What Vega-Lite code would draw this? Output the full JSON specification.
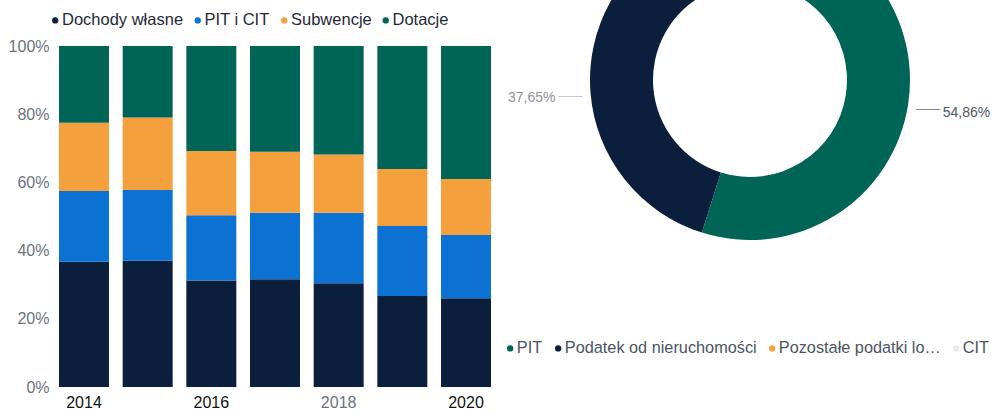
{
  "$schema": "https://vega.github.io/schema/vega-lite/v6.json",
  "padding": {"left": 8, "top": -80, "right": 0, "bottom": 0},
  "bounds": "flush",
  "spacing": 10,
  "resolve": {"scale": {"color": "independent"}, "legend": {"color": "independent"}},
  "config": {
    "view": {"stroke": null},
    "font": "Liberation Sans"
  },
  "hconcat": [
    {
      "width": 446,
      "height": 341,
      "data": {
        "values": [
          {"rok": 2014, "kategoria": "Dochody własne", "kolejnosc": 1, "udzial": 36.7},
          {"rok": 2014, "kategoria": "PIT i CIT", "kolejnosc": 2, "udzial": 20.8},
          {"rok": 2014, "kategoria": "Subwencje", "kolejnosc": 3, "udzial": 20.0},
          {"rok": 2014, "kategoria": "Dotacje", "kolejnosc": 4, "udzial": 22.5},
          {"rok": 2015, "kategoria": "Dochody własne", "kolejnosc": 1, "udzial": 37.0},
          {"rok": 2015, "kategoria": "PIT i CIT", "kolejnosc": 2, "udzial": 20.8},
          {"rok": 2015, "kategoria": "Subwencje", "kolejnosc": 3, "udzial": 21.2},
          {"rok": 2015, "kategoria": "Dotacje", "kolejnosc": 4, "udzial": 21.0},
          {"rok": 2016, "kategoria": "Dochody własne", "kolejnosc": 1, "udzial": 31.2},
          {"rok": 2016, "kategoria": "PIT i CIT", "kolejnosc": 2, "udzial": 19.2},
          {"rok": 2016, "kategoria": "Subwencje", "kolejnosc": 3, "udzial": 18.8},
          {"rok": 2016, "kategoria": "Dotacje", "kolejnosc": 4, "udzial": 30.8},
          {"rok": 2017, "kategoria": "Dochody własne", "kolejnosc": 1, "udzial": 31.6},
          {"rok": 2017, "kategoria": "PIT i CIT", "kolejnosc": 2, "udzial": 19.5},
          {"rok": 2017, "kategoria": "Subwencje", "kolejnosc": 3, "udzial": 17.9},
          {"rok": 2017, "kategoria": "Dotacje", "kolejnosc": 4, "udzial": 31.0},
          {"rok": 2018, "kategoria": "Dochody własne", "kolejnosc": 1, "udzial": 30.4},
          {"rok": 2018, "kategoria": "PIT i CIT", "kolejnosc": 2, "udzial": 20.7},
          {"rok": 2018, "kategoria": "Subwencje", "kolejnosc": 3, "udzial": 17.1},
          {"rok": 2018, "kategoria": "Dotacje", "kolejnosc": 4, "udzial": 31.8},
          {"rok": 2019, "kategoria": "Dochody własne", "kolejnosc": 1, "udzial": 26.7},
          {"rok": 2019, "kategoria": "PIT i CIT", "kolejnosc": 2, "udzial": 20.5},
          {"rok": 2019, "kategoria": "Subwencje", "kolejnosc": 3, "udzial": 16.7},
          {"rok": 2019, "kategoria": "Dotacje", "kolejnosc": 4, "udzial": 36.1},
          {"rok": 2020, "kategoria": "Dochody własne", "kolejnosc": 1, "udzial": 26.0},
          {"rok": 2020, "kategoria": "PIT i CIT", "kolejnosc": 2, "udzial": 18.6},
          {"rok": 2020, "kategoria": "Subwencje", "kolejnosc": 3, "udzial": 16.4},
          {"rok": 2020, "kategoria": "Dotacje", "kolejnosc": 4, "udzial": 39.0}
        ]
      },
      "mark": {"type": "bar"},
      "encoding": {
        "x": {
          "field": "rok",
          "type": "ordinal",
          "scale": {"paddingInner": 0.215, "paddingOuter": 0.11},
          "axis": {
            "title": null,
            "values": [2014, 2016, 2018, 2020],
            "domain": false,
            "ticks": false,
            "labelAngle": 0,
            "labelFontSize": 16,
            "labelPadding": 7,
            "labelColor": {"condition": {"test": "datum.value == 2018", "value": "#6b7280"}, "value": "#111111"}
          }
        },
        "y": {
          "field": "udzial",
          "type": "quantitative",
          "stack": "normalize",
          "scale": {"domain": [0, 1]},
          "axis": {
            "title": null,
            "values": [0, 0.2, 0.4, 0.6, 0.8, 1],
            "format": ".0%",
            "domain": false,
            "ticks": false,
            "grid": false,
            "labelFontSize": 16,
            "labelColor": "#6b7280",
            "labelPadding": 3
          }
        },
        "color": {
          "field": "kategoria",
          "type": "nominal",
          "scale": {
            "domain": ["Dochody własne", "PIT i CIT", "Subwencje", "Dotacje"],
            "range": ["#0b1f3d", "#0b72d4", "#f4a03d", "#006457"]
          },
          "legend": {
            "orient": "none",
            "legendX": -5,
            "legendY": -34,
            "direction": "horizontal",
            "title": null,
            "symbolType": "circle",
            "symbolSize": 40,
            "labelFontSize": 16.5,
            "labelColor": "#1f2937",
            "labelOffset": -1.5,
            "columnPadding": 5.5,
            "padding": 0
          }
        },
        "order": {"field": "kolejnosc"}
      }
    },
    {
      "width": 484,
      "height": 68,
      "data": {
        "values": [
          {"kategoria": "PIT", "udzial": 54.86, "etykieta": "54,86%"},
          {"kategoria": "Podatek od nieruchomości", "udzial": 37.65, "etykieta": "37,65%"},
          {"kategoria": "Pozostałe podatki lokalne", "udzial": 6.49, "etykieta": "6,49%"},
          {"kategoria": "CIT", "udzial": 1.0, "etykieta": "1,00%"}
        ]
      },
      "encoding": {
        "theta": {"field": "udzial", "type": "quantitative", "stack": true},
        "order": {"field": "udzial", "sort": "descending"}
      },
      "layer": [
        {
          "mark": {"type": "arc", "outerRadius": 160, "innerRadius": 97},
          "encoding": {
            "color": {
              "field": "kategoria",
              "type": "nominal",
              "scale": {
                "domain": ["PIT", "Podatek od nieruchomości", "Pozostałe podatki lokalne", "CIT"],
                "range": ["#006457", "#0b1f3d", "#f4a03d", "#e6e9ee"]
              },
              "legend": {
                "orient": "none",
                "legendX": -6,
                "legendY": 294,
                "direction": "horizontal",
                "title": null,
                "symbolType": "circle",
                "symbolSize": 40,
                "labelFontSize": 16.3,
                "labelColor": "#4b5563",
                "labelOffset": -1.5,
                "columnPadding": 7,
                "padding": 0,
                "labelLimit": 300,
                "labelExpr": "datum.label == 'Pozostałe podatki lokalne' ? 'Pozostałe podatki lo…' : datum.label"
              }
            }
          }
        },
        {
          "transform": [{"filter": "datum.udzial > 20"}],
          "mark": {"type": "text", "radius": 180, "fontSize": 12, "dy": 1.5, "text": "——"},
          "encoding": {
            "color": {"condition": {"test": "datum.udzial > 50", "value": "#7d848d"}, "value": "#c4c8cd"}
          }
        },
        {
          "transform": [{"filter": "datum.udzial > 20"}],
          "mark": {"type": "text", "radius": 219, "fontSize": 14},
          "encoding": {
            "text": {"field": "etykieta"},
            "color": {"condition": {"test": "datum.udzial > 50", "value": "#4f5761"}, "value": "#8d939b"}
          }
        }
      ]
    }
  ]
}
